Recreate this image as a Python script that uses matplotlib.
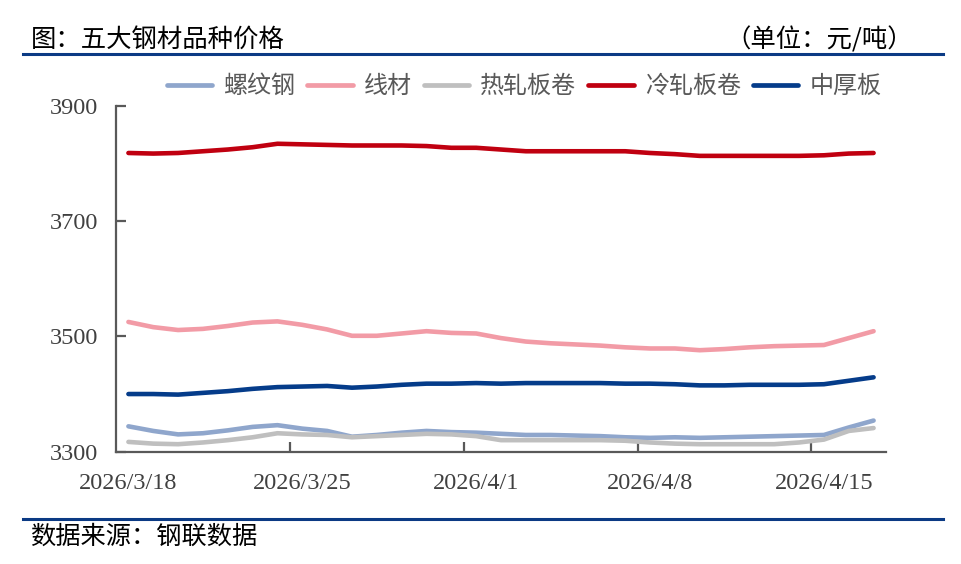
import matplotlib
matplotlib.use("Agg")
import matplotlib.pyplot as plt
from matplotlib.lines import Line2D
import numpy as np

plt.rcParams['font.family'] = ['Noto Sans CJK SC', 'DejaVu Sans']

# ---------------- data ----------------
dates = ["2026/3/18", "2026/3/19", "2026/3/20", "2026/3/21", "2026/3/22", "2026/3/23",
         "2026/3/24", "2026/3/25", "2026/3/26", "2026/3/27", "2026/3/28", "2026/3/29",
         "2026/3/30", "2026/3/31", "2026/4/1", "2026/4/2", "2026/4/3", "2026/4/4",
         "2026/4/5", "2026/4/6", "2026/4/7", "2026/4/8", "2026/4/9", "2026/4/10",
         "2026/4/11", "2026/4/12", "2026/4/13", "2026/4/14", "2026/4/15", "2026/4/16",
         "2026/4/17"]

rebar = [3344, 3336, 3330, 3332, 3337, 3343, 3346, 3340, 3336, 3326, 3329, 3333,
         3336, 3334, 3333, 3331, 3329, 3329, 3328, 3327, 3325, 3324, 3325, 3324,
         3325, 3326, 3327, 3328, 3329, 3342, 3354]
wire = [3525, 3516, 3511, 3513, 3518, 3524, 3526, 3520, 3512, 3501, 3501, 3505,
        3509, 3506, 3505, 3497, 3491, 3488, 3486, 3484, 3481, 3479, 3479, 3476,
        3478, 3481, 3483, 3484, 3485, 3497, 3509]
hot_coil = [3317, 3314, 3313, 3316, 3320, 3325, 3332, 3330, 3329, 3325, 3327, 3329,
            3331, 3330, 3327, 3320, 3320, 3320, 3320, 3320, 3319, 3316, 3314, 3313,
            3313, 3313, 3313, 3316, 3321, 3336, 3341]
cold_coil = [3818, 3817, 3818, 3821, 3824, 3828, 3834, 3833, 3832, 3831, 3831, 3831,
             3830, 3827, 3827, 3824, 3821, 3821, 3821, 3821, 3821, 3818, 3816, 3813,
             3813, 3813, 3813, 3813, 3814, 3817, 3818]
plate = [3400, 3400, 3399, 3402, 3405, 3409, 3412, 3413, 3414, 3411, 3413, 3416,
         3418, 3418, 3419, 3418, 3419, 3419, 3419, 3419, 3418, 3418, 3417, 3415,
         3415, 3416, 3416, 3416, 3417, 3423, 3429]

series_names = ["螺纹钢", "线材", "热轧板卷", "冷轧板卷", "中厚板"]
series_vals = [rebar, wire, hot_coil, cold_coil, plate]
colors = ["#8FA6CC", "#F29BA6", "#BFBFBF", "#C00010", "#053C8A"]

label_dates = ["2026/3/18", "2026/3/25", "2026/4/1", "2026/4/8", "2026/4/15"]
yticks = [3300, 3500, 3700, 3900]

# ---------------- figure ----------------
W, H = 961, 564
fig = plt.figure(figsize=(W / 100, H / 100), dpi=100)
fig.patch.set_facecolor("white")

ax = fig.add_axes([116 / W, 1 - 451.7 / H, (886 - 116) / W, (451.7 - 105.7) / H])

x = np.arange(len(dates))
for name, vals, c in zip(series_names, series_vals, colors):
    ax.plot(x, vals, color=c, lw=3.3, solid_joinstyle="round", solid_capstyle="round",
            label=name)

ax.set_xlim(-0.5, len(dates) - 0.5)
ax.set_ylim(3300, 3900)

ax.set_yticks(yticks)
ax.set_yticklabels([str(v) for v in yticks])
lab_pos = [dates.index(d) for d in label_dates]
ax.set_xticks(lab_pos)
ax.set_xticklabels(label_dates)
ax.set_xticks([p - 0.5 for p in lab_pos[1:]], minor=True)

for s in ["top", "right"]:
    ax.spines[s].set_visible(False)
for s in ["left", "bottom"]:
    ax.spines[s].set_color("#595959")
    ax.spines[s].set_linewidth(1.6)

ax.tick_params(axis="y", which="major", direction="in", length=7, width=1.6,
               color="#595959", pad=13)
ax.tick_params(axis="x", which="major", length=0, pad=15)
ax.tick_params(axis="x", which="minor", direction="in", length=7, width=1.6,
               color="#595959")
for lab in ax.get_xticklabels() + ax.get_yticklabels():
    lab.set_fontfamily("Liberation Serif")
    lab.set_fontsize(17.5)
    lab.set_color("#404040")

# legend
handles = [Line2D([0], [0], color=c, lw=3.4, solid_capstyle="round") for c in colors]
leg = fig.legend(handles, series_names, loc="center", bbox_to_anchor=(524 / W, 1 - 86 / H),
                 ncol=5, frameon=False, fontsize=17.3, handlelength=1.9, handletextpad=0.45,
                 columnspacing=0.5, borderaxespad=0)
for t in leg.get_texts():
    t.set_color("#595959")

# title, unit, rules, source
navy = "#0B3A84"
fig.text(31 / W, 1 - 40 / H, "图：五大钢材品种价格", fontsize=18.3, color="black",
         ha="left", va="center")
fig.text(913 / W, 1 - 40 / H, "（单位：元/吨）", fontsize=18.3, color="black",
         ha="right", va="center")
fig.add_artist(Line2D([23 / W, 943 / W], [1 - 54 / H, 1 - 54 / H], color=navy, lw=2.2))
fig.add_artist(Line2D([23 / W, 943 / W], [1 - 519 / H, 1 - 519 / H], color=navy, lw=2.2))
fig.text(30 / W, 1 - 537 / H, "数据来源：钢联数据", fontsize=18.2, color="black",
         ha="left", va="center")

fig.savefig("out.png", dpi=100, facecolor="white")
